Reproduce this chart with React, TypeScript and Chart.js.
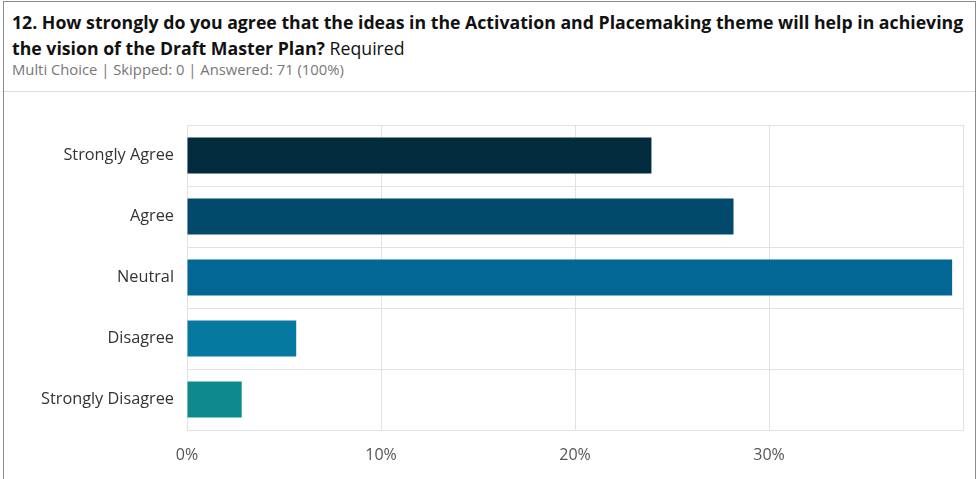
import React, { useEffect, useRef } from "react";
import { Chart, registerables } from "chart.js";

Chart.register(...registerables);

const categories = ["Strongly Agree", "Agree", "Neutral", "Disagree", "Strongly Disagree"];
const percentValues = [23.94, 28.17, 39.44, 5.63, 2.82];
const barColors = ["#022b3e", "#024a6b", "#026795", "#0679a0", "#0c8a8c"];
const xTickValues = [0, 10, 20, 30, 40];

const titleText = "12. How strongly do you agree that the ideas in the Activation and Placemaking theme will help in achieving the vision of the Draft Master Plan?";
const subtitleText = "Multi Choice | Skipped: 0 | Answered: 71 (100%)";

export default function App() {
  const canvasRef = useRef<HTMLCanvasElement | null>(null);

  useEffect(() => {
    if (!canvasRef.current) return;
    const chart = new Chart(canvasRef.current, {
      type: "bar",
      data: {
        labels: categories,
        datasets: [
          {
            data: percentValues,
            backgroundColor: barColors,
            borderWidth: 0,
            categoryPercentage: 1,
            barPercentage: 0.59,
          },
        ],
      },
      options: {
        indexAxis: "y",
        animation: false,
        responsive: false,
        maintainAspectRatio: false,
        layout: { padding: { left: 0, right: 14, top: 33, bottom: 0 } },
        plugins: {
          legend: { display: false },
          tooltip: { enabled: false },
        },
        scales: {
          x: {
            min: 0,
            max: 40,
            afterBuildTicks: (axis: any) => {
              axis.ticks = xTickValues.map((v) => ({ value: v }));
            },
            afterFit: (axis: any) => {
              axis.height = 49;
            },
            ticks: {
              padding: 16,
              color: "#555555",
              font: { family: "'Open Sans', sans-serif", size: 16 },
              callback: (v: any) => (Number(v) >= 40 ? "" : v + "%"),
            },
            grid: { color: "#e2e2e2", drawTicks: false, lineWidth: 1 },
            border: { display: true, color: "#e2e2e2" },
          },
          y: {
            afterFit: (axis: any) => {
              axis.width = 183;
            },
            ticks: {
              padding: 13,
              color: "#333333",
              font: { family: "'Open Sans', sans-serif", size: 16.3 },
            },
            grid: { color: "#e2e2e2", drawTicks: false, offset: true, lineWidth: 1 },
            border: { display: true, color: "#e2e2e2" },
          },
        },
      },
    });
    return () => chart.destroy();
  }, []);

  return (
    <div
      style={{
        position: "absolute",
        left: 0,
        top: 0,
        width: 979,
        height: 479,
        background: "#ffffff",
        overflow: "hidden",
        fontFamily: "'Open Sans', sans-serif",
      }}
    >
      <div
        style={{
          position: "absolute",
          left: 3,
          top: 1,
          width: 973,
          height: 490,
          border: "1px solid #8a8a8a",
          boxSizing: "border-box",
        }}
      />
      <div
        style={{
          position: "absolute",
          left: 12,
          top: 9,
          width: 962,
          fontSize: 17.7,
          lineHeight: "26px",
          color: "#111111",
        }}
      >
        <span style={{ fontWeight: 700 }}>{titleText}</span> <span>Required</span>
      </div>
      <div
        style={{
          position: "absolute",
          left: 12,
          top: 60,
          fontSize: 14.8,
          lineHeight: "19px",
          color: "#777777",
        }}
      >
        {subtitleText}
      </div>
      <div
        style={{
          position: "absolute",
          left: 4,
          top: 91,
          width: 971,
          height: 1,
          background: "#dddddd",
        }}
      />
      <canvas
        ref={canvasRef}
        width={975}
        height={387}
        style={{ position: "absolute", left: 4, top: 92, width: 975, height: 387 }}
      />
    </div>
  );
}
